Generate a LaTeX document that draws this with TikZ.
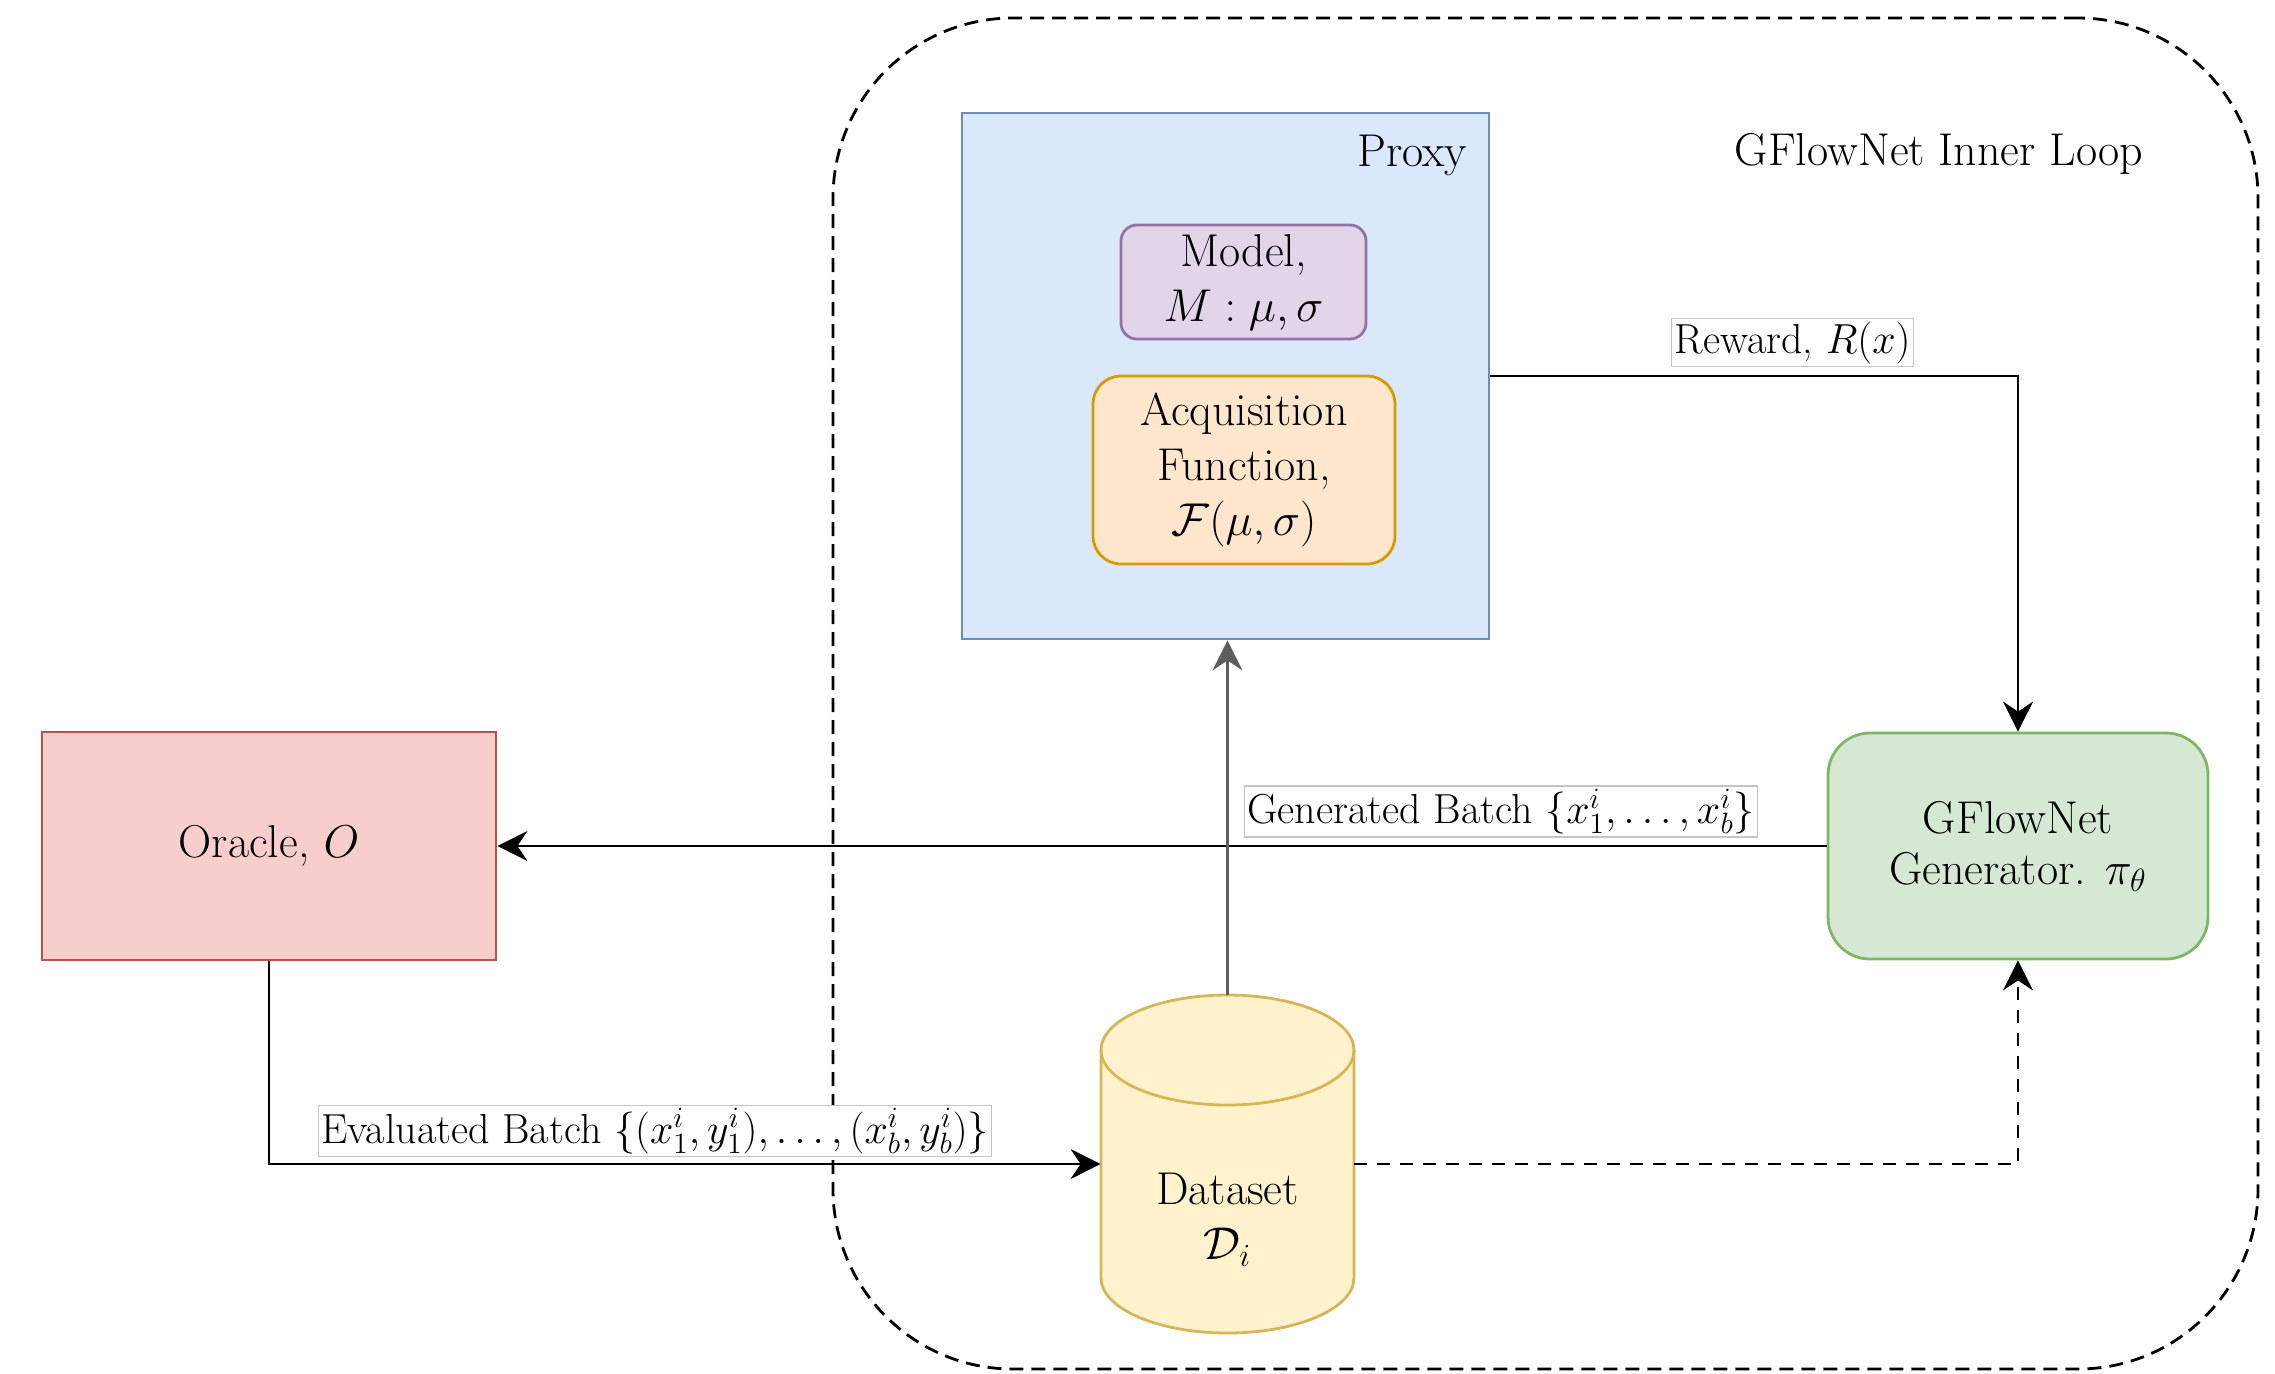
\RequirePackage{fix-cm}
\documentclass[tikz,border=0pt]{standalone}
\usetikzlibrary{arrows.meta}

\definecolor{proxyF}{HTML}{DAE8FC}\definecolor{proxyD}{HTML}{6C8EBF}
\definecolor{modelF}{HTML}{E1D5E7}\definecolor{modelD}{HTML}{9673A6}
\definecolor{acqF}{HTML}{FFE6CC}\definecolor{acqD}{HTML}{D79B00}
\definecolor{oracleF}{HTML}{F8CECC}\definecolor{oracleD}{HTML}{B85450}
\definecolor{genF}{HTML}{D5E8D4}\definecolor{genD}{HTML}{82B366}
\definecolor{dataF}{HTML}{FFF2CC}\definecolor{dataD}{HTML}{D6B656}
\definecolor{linegray}{HTML}{5E5E5E}
\definecolor{lblgray}{HTML}{C4C4C4}

\begin{document}
\begin{tikzpicture}[
  x=0.5pt, y=-0.5pt,
  every node/.style={font=\fontsize{23}{27.5}\selectfont},
  box/.style={draw, line width=1.4pt, inner sep=0pt, align=center},
  conn/.style={line width=1.4pt, -{Stealth[length=15pt,width=15pt,inset=5pt]}},
  dashconn/.style={conn, dash pattern=on 6.5pt off 5pt},
  lbl/.style={fill=white, draw=lblgray, line width=0.7pt, inner sep=1.5pt,
              font=\fontsize{21}{26}\selectfont},
]
\useasboundingbox (0,0) rectangle (2275,1373);

% outer inner-loop frame
\node[draw, line width=1.4pt, dash pattern=on 7pt off 4pt, rounded corners=90pt,
      minimum width=712.5pt, minimum height=675.5pt, inner sep=0pt]
      (loop) at (1545.5,693.5) {};
\node[anchor=base] (looptitle) at (1939,165) {GFlowNet Inner Loop};

% proxy with model and acquisition function
\node[box, draw=proxyD, fill=proxyF, minimum width=263.5pt, minimum height=263pt]
      (proxy) at (1225.5,376) {};
\node[anchor=base east] (proxytitle) at (1474,166) {Proxy};
\node[box, draw=modelD, fill=modelF, rounded corners=8pt,
      minimum width=122.5pt, minimum height=57pt] (model) at (1243.5,282)
      {Model,\\ $M:\mu,\sigma$};
\node[box, draw=acqD, fill=acqF, rounded corners=14pt,
      minimum width=151pt, minimum height=94pt] (acq) at (1244,470)
      {Acquisition\\ Function,\\ $\mathcal{F}(\mu,\sigma)$};

% oracle and generator
\node[box, draw=oracleD, fill=oracleF, minimum width=227pt, minimum height=114pt]
      (oracle) at (269,846) {Oracle, $O$};
\node[box, draw=genD, fill=genF, rounded corners=21pt,
      minimum width=190pt, minimum height=113pt,
      font=\fontsize{23}{25.5}\selectfont] (gfn) at (2018,846)
      {GFlowNet\\ Generator. $\pi_\theta$};

% dataset cylinder
\node[minimum width=126.5pt, minimum height=169pt, inner sep=0pt] (ds) at (1227.5,1164) {};
\draw[draw=dataD, fill=dataF, line width=1.4pt]
  (1101,1050) -- (1101,1278)
  arc[start angle=180, end angle=0, x radius=126.5, y radius=55]
  -- (1354,1050)
  arc[start angle=0, end angle=-180, x radius=126.5, y radius=55] -- cycle;
\draw[draw=dataD, line width=1.4pt]
  (1101,1050) arc[start angle=180, end angle=0, x radius=126.5, y radius=55];
\node[align=center] (dstext) at (1227.5,1220) {Dataset\\ $\mathcal{D}_i$};

% connectors
\draw[conn] (proxy.east) -| (gfn.north);
\draw[conn] (gfn.west) -- (oracle.east);
\draw[conn, draw=linegray, fill=linegray] (ds.north) -- (ds.north |- proxy.south);
\draw[conn] (oracle.south) |- (ds.west);
\draw[dashconn] (ds.east) -| (gfn.south);

% edge labels
\node[lbl] (rewardlbl) at (1792.5,342.5) {Reward, $R(x)$};
\node[lbl] (genlbl) at (1501,811.5) {Generated Batch $\{x_1^i,\dots,x_b^i\}$};
\node[lbl] (evallbl) at (655,1131) {Evaluated Batch $\{(x_1^i,y_1^i),\dots,(x_b^i,y_b^i)\}$};
\end{tikzpicture}
\end{document}
